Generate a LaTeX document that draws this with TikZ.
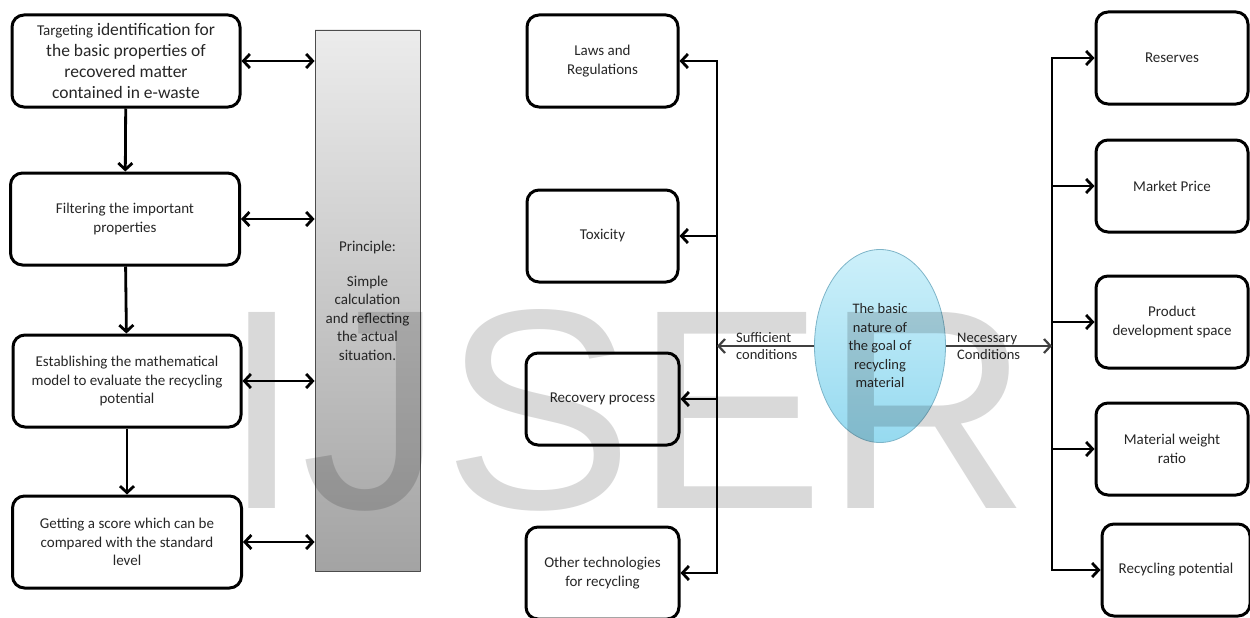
\documentclass[tikz,border=0pt]{standalone}
\usepackage{fontspec}
\setmainfont{Carlito}
\newfontfamily\wmfont{Liberation Sans}
\usetikzlibrary{arrows.meta,shapes.geometric}
\definecolor{ctext}{RGB}{38,38,38}
\definecolor{cgoaltop}{RGB}{205,240,250}
\definecolor{cgoalbot}{RGB}{150,218,240}
\definecolor{cgoaledge}{RGB}{125,180,200}
\tikzset{pxgrid/.style={x=1pt,y=-1pt,line join=round}}
\tikzset{flowbox/.style={draw,line width=3pt,rounded corners=12pt,align=center,inner sep=0pt,
                         text=ctext,font=\fontsize{15}{18.5}\selectfont},
         arr/.style={line width=2.8pt,-{Straight Barb[length=6.5pt,width=14pt]}},
         dbl/.style={line width=2.8pt,{Straight Barb[length=6.5pt,width=14pt]}-{Straight Barb[length=6.5pt,width=14pt]}},
         bus/.style={line width=2.8pt,line cap=rect},
         condarr/.style={black!75,line width=2.2pt,-{Straight Barb[length=6.5pt,width=14pt]}},
         condtxt/.style={anchor=west,align=left,inner sep=0pt,text=ctext,font=\fontsize{14.5}{17}\selectfont}}

\begin{document}
\begin{tikzpicture}[pxgrid]
    \useasboundingbox (0,0) rectangle (1250,618);
    % left column: the evaluation steps
    \node[flowbox,minimum width=228,minimum height=92,font=\fontsize{17.5}{21}\selectfont] (target) at (126,61)
      {{\fontsize{15}{21}\selectfont Targeting} identification for\\the basic properties of\\recovered matter\\contained in e-waste};
    \node[flowbox,minimum width=229,minimum height=92] (filter) at (125,219) {Filtering the important\\properties};
    \node[flowbox,minimum width=228,minimum height=92] (model) at (127,381)
      {Establishing the mathematical\\model to evaluate the recycling\\potential};
    \node[flowbox,minimum width=229,minimum height=92] (score) at (127,542)
      {Getting a score which can be\\compared with the standard\\level};
    \node[draw=black!70,line width=0.8pt,top color=gray!15,bottom color=gray!72,minimum width=105,minimum height=541,
          align=center,inner sep=0pt,text=ctext,font=\fontsize{15}{18.5}\selectfont] (principle) at (367.5,300.5)
      {Principle:\\[16.5pt]Simple\\calculation\\and reflecting\\the actual\\situation.};
    \draw[arr] (target) -- (filter);
    \draw[arr] (filter) -- (model);
    \draw[arr] (model) -- (score);
    \foreach \n in {target,filter,model,score}
      \draw[dbl] (\n.east) -- (\n.east -| principle.west);
    % middle: sufficient conditions
    \node[flowbox,minimum width=151,minimum height=92] (laws) at (602.5,61) {Laws and\\Regulations};
    \node[flowbox,minimum width=151,minimum height=92] (toxic) at (602.5,236) {Toxicity};
    \node[flowbox,minimum width=153,minimum height=92] (recov) at (602.5,399) {Recovery process};
    \node[flowbox,minimum width=153,minimum height=92] (othertech) at (602.5,573) {Other technologies\\for recycling};
    \node[ellipse,minimum width=131,minimum height=193,top color=cgoaltop,bottom color=cgoalbot,draw=cgoaledge,
          line width=0.8pt,inner sep=0pt,align=center,text=ctext,font=\fontsize{14.5}{18.5}\selectfont] (goal) at (880,346)
      {The basic\\nature of\\the goal of\\recycling\\material};
    \coordinate (sbus) at (717,0);
    \draw[bus] (laws.east -| sbus) -- (othertech.east -| sbus);
    \foreach \n in {laws,toxic,recov,othertech}
      \draw[arr] (\n.east -| sbus) -- (\n.east);
    \draw[condarr] (goal.west) -- (goal.west -| sbus);
    \node[condtxt] (suff) at (736,346) {Sufficient\\conditions};
    % right: necessary conditions
    \node[flowbox,minimum width=152,minimum height=92] (reserves) at (1172,58) {Reserves};
    \node[flowbox,minimum width=152,minimum height=92] (price) at (1172,186) {Market Price};
    \node[flowbox,minimum width=152,minimum height=92] (space) at (1172,322) {Product\\development space};
    \node[flowbox,minimum width=152,minimum height=92] (weight) at (1172,449) {Material weight\\ratio};
    \node[flowbox,minimum width=148,minimum height=92] (recpot) at (1176,570) {Recycling potential};
    \coordinate (nbus) at (1052,0);
    \draw[bus] (reserves.west -| nbus) -- (recpot.west -| nbus);
    \foreach \n in {reserves,price,space,weight,recpot}
      \draw[arr] (\n.west -| nbus) -- (\n.west);
    \draw[condarr] (goal.east) -- (goal.east -| nbus);
    \node[condtxt] (necc) at (957,346) {Necessary\\Conditions};
    % journal watermark
    \node[anchor=base west,inner sep=0pt,text=black,opacity=0.15,font=\wmfont\fontsize{285}{285}\selectfont] (wmark) at (222,508) {IJSER};
\end{tikzpicture}
\end{document}
